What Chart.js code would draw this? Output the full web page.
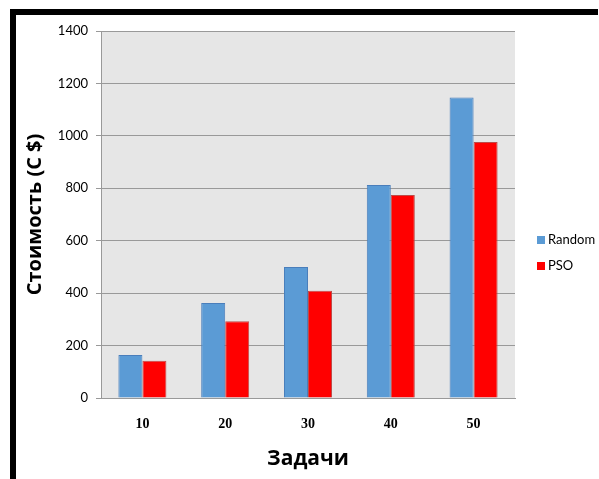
<!DOCTYPE html>
<html>
<head>
<meta charset="utf-8">
<script src="https://cdn.jsdelivr.net/npm/chart.js@4/dist/chart.umd.min.js"></script>
<style>
  body { margin: 0; background: #fff; width: 599px; height: 479px; overflow: hidden; position: relative; }
  #frame { position: absolute; left: 10px; top: 9px; width: 582px; height: 470px; border-top: 6px solid #000; border-left: 6px solid #000; }
  #c { position: absolute; left: 16px; top: 15px; }
</style>
</head>
<body>
<div id="frame"></div>
<canvas id="c" width="583" height="464"></canvas>
<script>
const tasks = ["10", "20", "30", "40", "50"];
const randomCost = [164, 362, 500, 813, 1146];
const psoCost = [142, 293, 409, 774, 977];
const seriesNames = ["Random", "PSO"];

// фон области построения + легенда справа
const plotBg = {
  id: "plotBg",
  beforeDraw(chart) {
    const { ctx, chartArea } = chart;
    ctx.save();
    ctx.fillStyle = "#e6e6e6";
    ctx.fillRect(chartArea.left, chartArea.top, chartArea.right - chartArea.left, chartArea.bottom - chartArea.top);
    ctx.restore();
  },
  afterDraw(chart) {
    const ctx = chart.ctx;
    ctx.save();
    ctx.font = "13px Lato, 'Open Sans', sans-serif";
    ctx.textBaseline = "middle";
    chart.data.datasets.forEach((ds, i) => {
      const y = 225 + i * 26;
      ctx.fillStyle = ds.backgroundColor;
      ctx.fillRect(521, y - 4, 8, 8);
      ctx.fillStyle = "#000";
      ctx.fillText(ds.label, 532, y);
    });
    ctx.restore();
  }
};

new Chart(document.getElementById("c"), {
  type: "bar",
  data: {
    labels: tasks,
    datasets: [
      { label: seriesNames[0], data: randomCost, backgroundColor: "#5b9bd5", borderColor: "#4a7ebb", borderWidth: 1 },
      { label: seriesNames[1], data: psoCost, backgroundColor: "#ff0000", borderColor: "#be4b48", borderWidth: 1 }
    ]
  },
  options: {
    responsive: false,
    animation: false,
    datasets: { bar: { categoryPercentage: 0.58, barPercentage: 1 } },
    layout: { padding: { top: 16, right: 84, left: 0, bottom: 0 } },
    plugins: { legend: { display: false }, tooltip: { enabled: false } },
    scales: {
      x: {
        grid: { display: false, drawTicks: false },
        border: { color: "#999", width: 1 },
        ticks: { color: "#000", padding: 18, font: { family: "'Liberation Serif', serif", size: 14, weight: "bold" } },
        title: { display: true, text: "Задачи", color: "#000", padding: { top: 0, bottom: 7 }, font: { family: "'Open Sans', sans-serif", size: 21, weight: "bold" } },
        afterFit(scale) { scale.height = 81; }
      },
      y: {
        min: 0,
        max: 1400,
        ticks: {
          stepSize: 200, color: "#000", padding: 8,
          font: { family: "Lato, 'Open Sans', sans-serif", size: 13 },
          callback: (v) => String(v)
        },
        grid: { color: "#999", tickLength: 5 },
        border: { color: "#999", width: 1 },
        title: { display: true, text: "Стоимость (С $)", color: "#000", padding: { top: 7, bottom: 0 }, font: { family: "'Open Sans', sans-serif", size: 20, weight: "bold" } },
        afterFit(scale) { scale.width = 85; }
      }
    }
  },
  plugins: [plotBg]
});
</script>
</body>
</html>
